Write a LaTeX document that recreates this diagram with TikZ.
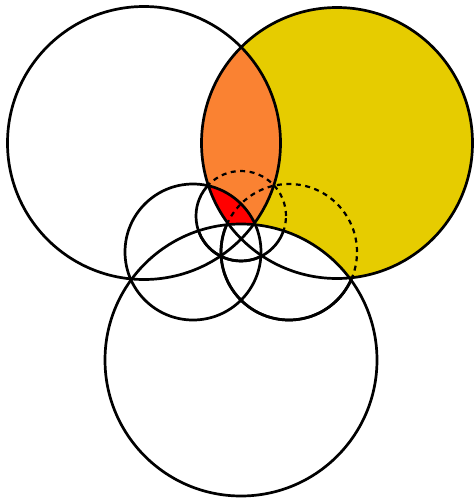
\documentclass[tikz,border=0pt]{standalone}
\usetikzlibrary{calc}
\definecolor{cyellow}{RGB}{230,204,0}
\definecolor{corange}{RGB}{250,130,50}
\definecolor{cred}{RGB}{255,0,0}
\begin{document}
\begin{tikzpicture}[x=1pt,y=-1pt,
  circ/.style={line width=2.7pt},
  dcirc/.style={line width=2.2pt,dash pattern=on 5pt off 4.5pt}]
\useasboundingbox (0,0) rectangle (476,498);
\coordinate (L) at (144,143);
\coordinate (R) at (337,143);
\coordinate (B) at (241,360);
\coordinate (LS) at (193,252);
\coordinate (RS) at (289,252);
\coordinate (TS) at (241,216);
% fills
\fill[cyellow] (R) circle (135.5pt);
\begin{scope}
  \clip (R) circle (135.5pt);
  \fill[corange] (L) circle (136.5pt);
  \clip (L) circle (136.5pt);
  \fill[cred] (LS) circle (68pt);
\end{scope}
\begin{scope}
  \clip (R) circle (135.5pt);
  \fill[white] (B) circle (136pt);
\end{scope}
% solid circles
\draw[circ] (L) circle (136.5pt);
\draw[circ] (R) circle (135.5pt);
\draw[circ] (B) circle (136pt);
\draw[circ] (LS) circle (68pt);
% solid parts of small circles outside the yellow region
\begin{scope}[even odd rule]
  \clip (-10,-10) rectangle (490,510) (R) circle (135.5pt);
  \draw[circ] (TS) circle (45pt);
  \draw[circ] (RS) circle (68pt);
\end{scope}
\begin{scope}
  \clip (B) circle (136pt);
  \draw[circ] (TS) circle (45pt);
  \draw[circ] (RS) circle (68pt);
\end{scope}
% dashed parts inside the yellow region
\begin{scope}[even odd rule]
  \clip (R) circle (135.5pt);
  \clip (-10,-10) rectangle (490,510) (B) circle (136pt);
  \draw[dcirc] (TS) circle (45pt);
  \draw[dcirc] (RS) circle (68pt);
\end{scope}
\end{tikzpicture}
\end{document}
